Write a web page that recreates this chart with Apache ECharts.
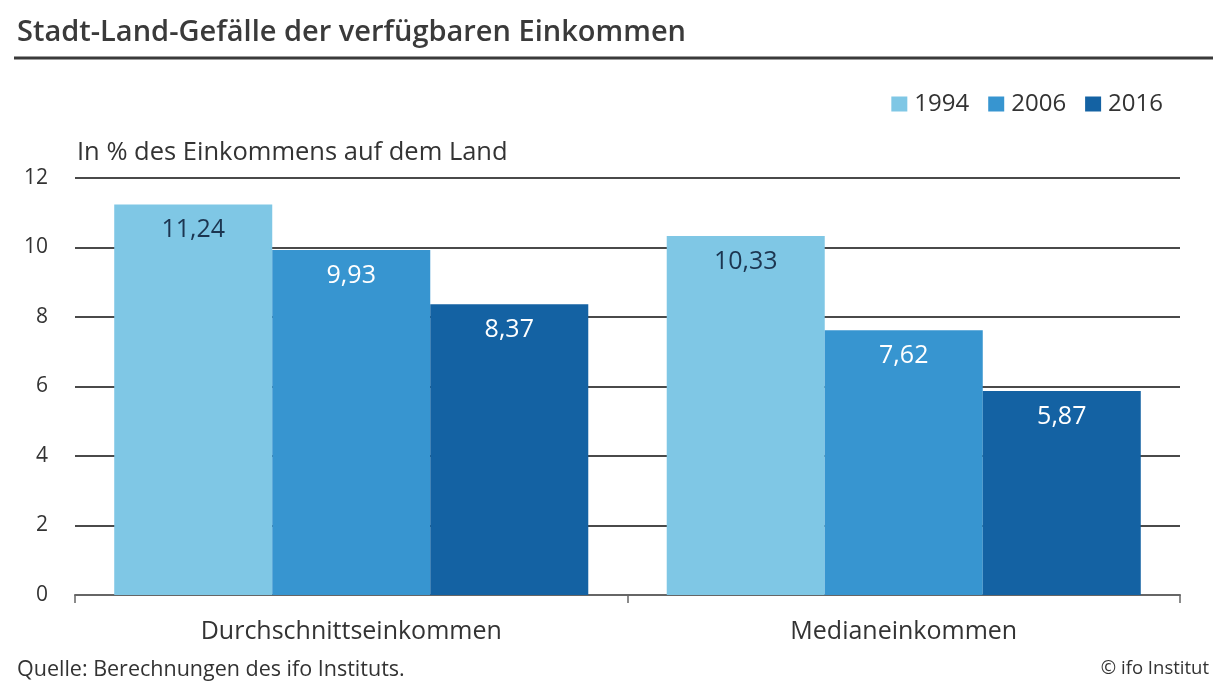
<!DOCTYPE html>
<html><head><meta charset="utf-8">
<script src="https://cdn.jsdelivr.net/npm/echarts@6/dist/echarts.min.js"></script>
<style>html,body{margin:0;padding:0;background:#fff}#c{width:1226px;height:691px}</style>
</head><body><div id="c"></div>
<script>
const categories = ['Durchschnittseinkommen', 'Medianeinkommen'];
const years = ['1994', '2006', '2016'];
const values1994 = [11.24, 10.33];
const values2006 = [9.93, 7.62];
const values2016 = [8.37, 5.87];
const yTicks = [0, 2, 4, 6, 8, 10, 12];
const colors = ['#7fc7e5', '#3795d0', '#1462a3'];
const labelColors = ['#1c3550', '#ffffff', '#ffffff'];
const FONT = '"Open Sans", sans-serif';
const chart = echarts.init(document.getElementById('c'));
const seriesData = [values1994, values2006, values2016];
chart.setOption({
  animation: false,
  textStyle: {fontFamily: FONT},
  title: [
    {text: 'Stadt-Land-Gefälle der verfügbaren Einkommen', left: 12, top: 13,
     textStyle: {fontFamily: FONT, fontSize: 29, fontWeight: 600, color: '#3a3a3a'}},
    {text: 'Quelle: Berechnungen des ifo Instituts.', left: 12, top: 654,
     textStyle: {fontFamily: FONT, fontSize: 21.5, fontWeight: 'normal', color: '#333'}},
    {text: '© ifo Institut', right: 12, top: 654,
     textStyle: {fontFamily: FONT, fontSize: 18.5, fontWeight: 'normal', color: '#333'}}
  ],
  graphic: [
    {type: 'line', shape: {x1: 14, y1: 58, x2: 1213, y2: 58}, style: {stroke: '#3a3a3a', lineWidth: 3}}
  ],
  legend: {
    data: years, right: 58, top: 87, itemWidth: 16, itemHeight: 15, itemGap: 19,
    icon: 'rect',
    textStyle: {fontFamily: FONT, fontSize: 24, color: '#333', padding: [0, 0, 0, 2]}
  },
  grid: {left: 75, right: 46, top: 178, bottom: 96},
  xAxis: {
    type: 'category', data: categories,
    axisLine: {lineStyle: {color: '#666', width: 2}},
    axisTick: {show: true, length: 8, lineStyle: {color: '#666', width: 1.5}},
    axisLabel: {fontFamily: FONT, fontSize: 25, color: '#333', margin: 24}
  },
  yAxis: {
    type: 'value', min: 0, max: 12, interval: 2,
    name: 'In % des Einkommens auf dem Land',
    nameLocation: 'end', nameGap: 12,
    nameTextStyle: {fontFamily: FONT, fontSize: 25.5, color: '#333', align: 'left', padding: [0, 0, 0, 2]},
    axisLine: {show: false}, axisTick: {show: false},
    axisLabel: {fontFamily: FONT, fontSize: 21, color: '#333', margin: 27,
      formatter: v => yTicks.includes(v) ? String(v) : ''},
    splitLine: {lineStyle: {color: '#4a4a4a', width: 2}}
  },
  series: years.map((y, i) => ({
    name: y, type: 'bar', data: seriesData[i],
    barGap: '0%', barCategoryGap: '14.2%',
    itemStyle: {color: colors[i]},
    label: {show: true, position: 'insideTop', distance: 13,
      formatter: p => p.value.toFixed(2).replace('.', ','),
      fontFamily: FONT, fontSize: 25, color: labelColors[i]}
  }))
});
</script></body></html>
